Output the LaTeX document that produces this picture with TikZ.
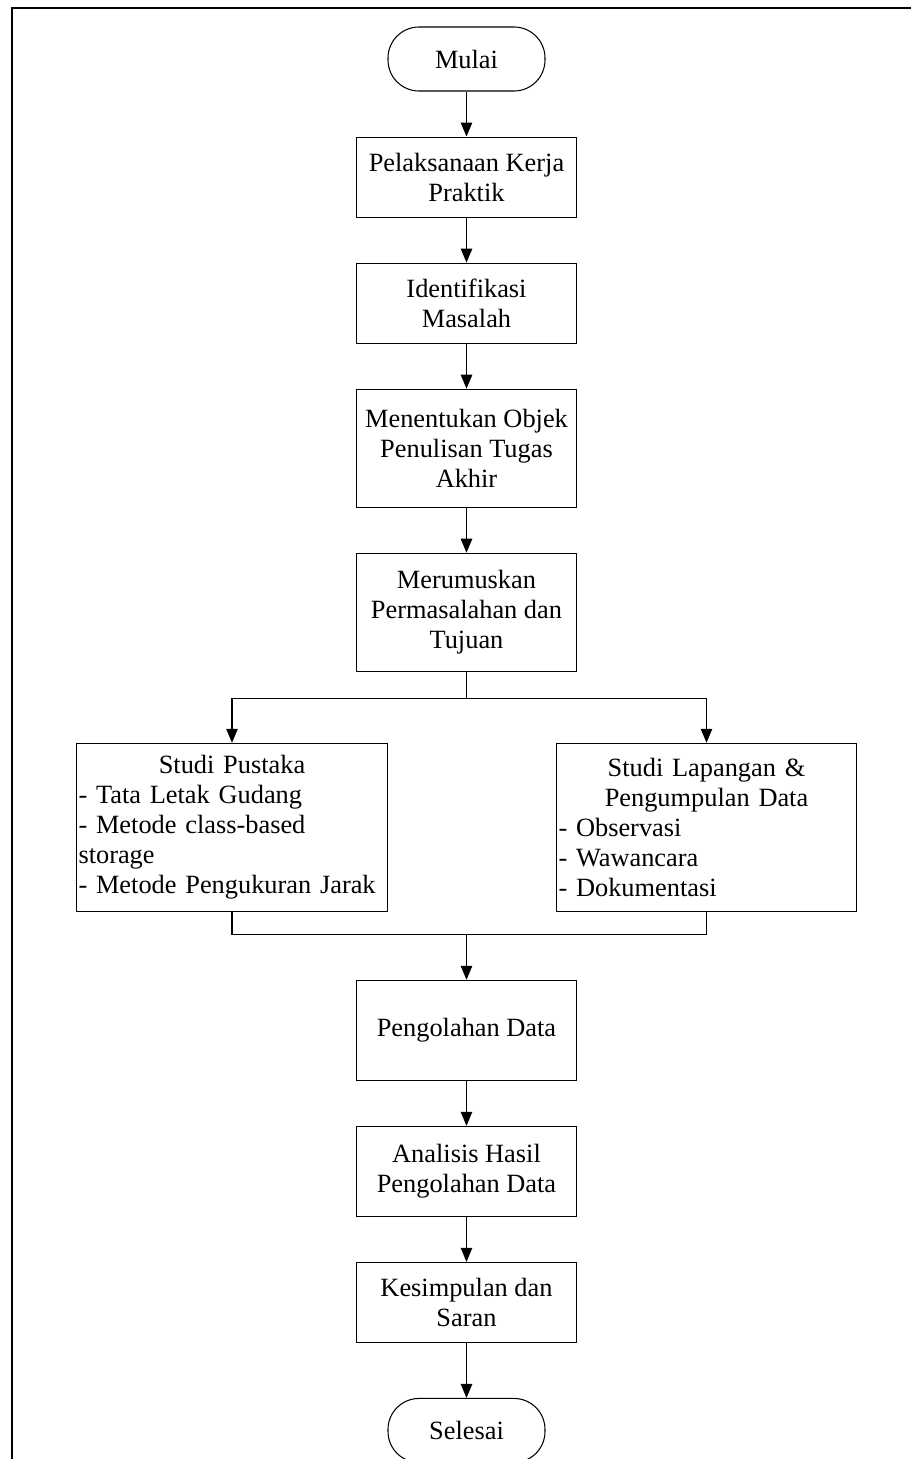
\documentclass[tikz,border=0pt]{standalone}
\usepackage{fontspec}
\setmainfont{Liberation Serif}
\usetikzlibrary{arrows.meta, positioning, calc}

\begin{document}
\begin{tikzpicture}[
    node distance=0.9cm,
    font=\fontsize{15pt}{17pt}\selectfont,
    proses/.style={draw, rectangle, line width=0.6pt, minimum width=4.4cm, minimum height=1.6cm, align=center, inner sep=2pt},
    terminal/.style={draw, rectangle, rounded corners=0.62cm, line width=0.6pt, minimum width=3.14cm, minimum height=1.28cm},
    studi/.style={draw, rectangle, line width=0.6pt, minimum height=3.36cm, inner xsep=0.04cm, inner ysep=2pt},
    panah/.style={-{Triangle[length=0.28cm, width=0.23cm]}, line width=0.6pt},
    garis/.style={line width=0.6pt}
]

    % Bingkai
    \useasboundingbox (0,0) rectangle (18.22,-29.18);
    \draw[line width=1.2pt] (0.24,-29.6) -- (0.24,-0.16) -- (18.6,-0.16);

    % Nodes
    \node[terminal] (mulai) at (9.33,-1.18) {Mulai};

    \node[proses, below=of mulai] (laksana) {Pelaksanaan Kerja\\Praktik};

    \node[proses, below=of laksana] (identifikasi) {Identifikasi\\Masalah};

    \node[proses, minimum height=2.36cm, below=of identifikasi] (objek) {Menentukan Objek\\Penulisan Tugas\\Akhir};

    \node[proses, minimum height=2.36cm, below=of objek] (rumus) {Merumuskan\\Permasalahan dan\\Tujuan};

    \node[studi, text width=6.14cm, below=1.42cm of rumus, xshift=-4.69cm] (pustaka) {%
        \raggedright
        {\centering Studi Pustaka\par}%
        - Tata Letak Gudang\par
        - Metode class-based\par
        storage\par
        - Metode Pengukuran Jarak};

    \node[studi, text width=5.92cm, below=1.42cm of rumus, xshift=4.8cm] (lapangan) {%
        \raggedright
        {\centering Studi Lapangan \&\par Pengumpulan Data\par}%
        - Observasi\par
        - Wawancara\par
        - Dokumentasi};

    \node[proses, minimum height=2cm, below=6.16cm of rumus] (olah) {Pengolahan Data};

    \node[proses, minimum height=1.8cm, below=of olah] (analisis) {Analisis Hasil\\Pengolahan Data};

    \node[proses, below=of analisis] (simpul) {Kesimpulan dan\\Saran};

    \node[terminal, below=1.1cm of simpul] (selesai) {Selesai};

    \coordinate (cabang) at ($(rumus.south)+(0,-0.54)$);
    \coordinate (gabung) at ($(olah.north)+(0,0.9)$);

    % Alur
    \draw[panah] (mulai) -- (laksana);
    \draw[panah] (laksana) -- (identifikasi);
    \draw[panah] (identifikasi) -- (objek);
    \draw[panah] (objek) -- (rumus);

    \draw[garis] (rumus) -- (cabang);
    \draw[panah] (cabang) -| (pustaka.north);
    \draw[panah] (cabang) -| (lapangan.north);

    \draw[garis] (pustaka.south) |- (gabung) -| (lapangan.south);
    \draw[panah] (gabung) -- (olah);

    \draw[panah] (olah) -- (analisis);
    \draw[panah] (analisis) -- (simpul);
    \draw[panah] (simpul) -- (selesai);

\end{tikzpicture}
\end{document}
